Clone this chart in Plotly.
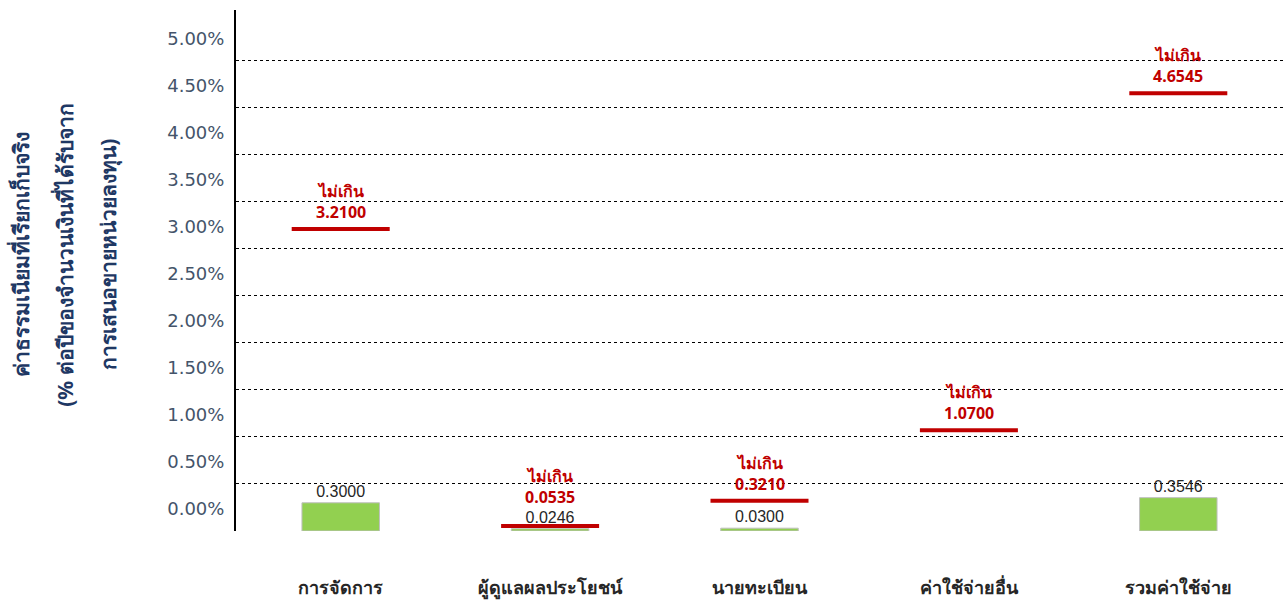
import plotly.graph_objects as go

categories = ["การจัดการ", "ผู้ดูแลผลประโยชน์", "นายทะเบียน", "ค่าใช้จ่ายอื่น", "รวมค่าใช้จ่าย"]
actual_fee = [0.3000, 0.0246, 0.0300, None, 0.3546]
max_fee = [3.2100, 0.0535, 0.3210, 1.0700, 4.6545]
max_label = "ไม่เกิน"
y_ticks = [0.0, 0.5, 1.0, 1.5, 2.0, 2.5, 3.0, 3.5, 4.0, 4.5, 5.0]
y_title_lines = ["ค่าธรรมเนียมที่เรียกเก็บจริง",
                 "(% ต่อปีของจำนวนเงินที่ได้รับจาก",
                 "การเสนอขายหน่วยลงทุน)"]

Y_MAX = 5.54
LABEL_SHIFT = 0.235  # tick labels sit above their gridlines in the original
L, R, T, B = 236, 2, 10, 73
W, H = 1285, 604
pw = W - L - R

fig = go.Figure()

fig.add_trace(go.Bar(
    x=categories, y=actual_fee,
    width=0.37,
    marker=dict(color="#92D050", line=dict(color="#BFBFBF", width=1)),
    text=[f"{v:.4f}" if v is not None else "" for v in actual_fee],
    textposition="outside", cliponaxis=False,
    textfont=dict(family="Liberation Sans, Arial", size=16, color="#262626"),
    showlegend=False, hoverinfo="skip",
))

fig.add_trace(go.Scatter(
    x=categories, y=max_fee, mode="markers",
    marker=dict(symbol="line-ew", size=70,
                line=dict(color="#C00000", width=4)),
    showlegend=False, hoverinfo="skip", cliponaxis=False,
))

for c, v, a in zip(categories, max_fee, actual_fee):
    close = a is not None and (v - a) < 0.15
    fig.add_annotation(
        x=c, y=v, xref="x", yref="y",
        text=f"<b>{max_label}<br>{v:.4f}</b>",
        showarrow=False, yanchor="bottom", yshift=16 if close else 4,
        font=dict(family="Noto Sans, Liberation Sans", size=16, color="#C00000"),
    )

# Y title (three rotated lines)
for px, line in zip([21, 65, 109], y_title_lines):
    fig.add_annotation(
        x=(px - L) / pw, y=0.53, xref="paper", yref="paper",
        text=f"<b>{line}</b>", textangle=-90, showarrow=False,
        xanchor="center", yanchor="middle",
        font=dict(family="Noto Sans, Liberation Sans", size=21, color="#1F3864"),
    )

fig.update_layout(
    width=W, height=H,
    margin=dict(l=L, r=R, t=T, b=B),
    paper_bgcolor="white", plot_bgcolor="white",
    xaxis=dict(
        type="category", showgrid=False, showline=False, ticks="",
        ticklabelstandoff=44,
        tickfont=dict(family="Noto Sans, Liberation Sans", size=18, color="#262626", weight="bold"),
    ),
    yaxis=dict(
        range=[0, Y_MAX], showgrid=False, zeroline=False,
        showline=True, linecolor="#000000", linewidth=2,
        tickmode="array",
        tickvals=[v + LABEL_SHIFT for v in y_ticks],
        ticktext=[f"{v:.2f}%" for v in y_ticks],
        ticks="", ticklabelstandoff=6,
        tickfont=dict(family="DejaVu Sans, Verdana", size=18, color="#44546A"),
    ),
    yaxis2=dict(
        range=[0, Y_MAX], overlaying="y", side="right",
        showgrid=True, gridcolor="#000000", griddash="dot", gridwidth=1,
        tickmode="array", tickvals=y_ticks, showticklabels=False,
        zeroline=False, showline=False, ticks="",
    ),
)

# invisible trace to activate grid axis
fig.add_trace(go.Scatter(x=[categories[0]], y=[0], yaxis="y2", mode="markers",
                         marker=dict(opacity=0), showlegend=False, hoverinfo="skip"))

fig.write_html("out.html", config={"displayModeBar": False},
               post_script="document.body.style.margin='0';")
